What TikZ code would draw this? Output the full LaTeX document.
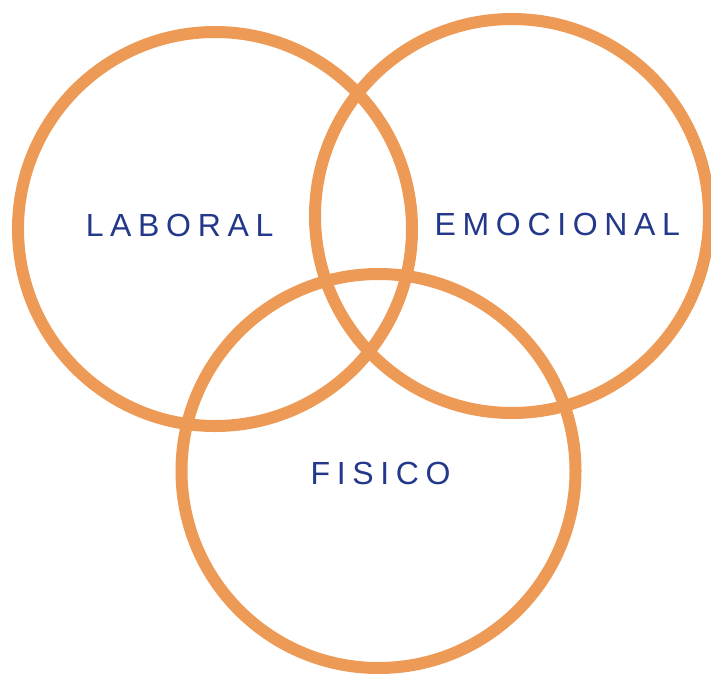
\documentclass[tikz,border=0pt]{standalone}
\usepackage{fontspec}
\setmainfont{Liberation Sans}[LetterSpace=20.8]
\definecolor{ringorange}{RGB}{237,154,86}
\definecolor{labelblue}{RGB}{35,56,138}
\begin{document}
\begin{tikzpicture}[x=1pt,y=-1pt,
  ring/.style={circle, draw=ringorange, line width=12pt, minimum size=394pt, inner sep=0pt},
  label/.style={anchor=base west, inner sep=0pt, text=labelblue, font=\fontsize{32}{36}\selectfont}]
\useasboundingbox (0,0) rectangle (711,673);
\node[ring] (laboralring) at (215,229) {};
\node[ring] (emocionalring) at (512,216) {};
\node[ring] (fisicoring) at (378.5,471) {};
\node[label] (laboral) at (85.6,236) {LABORAL};
\node[label] (emocional) at (434.5,235) {EMOCIONAL};
\node[label] (fisico) at (310.4,484) {FISICO};
\end{tikzpicture}
\end{document}
